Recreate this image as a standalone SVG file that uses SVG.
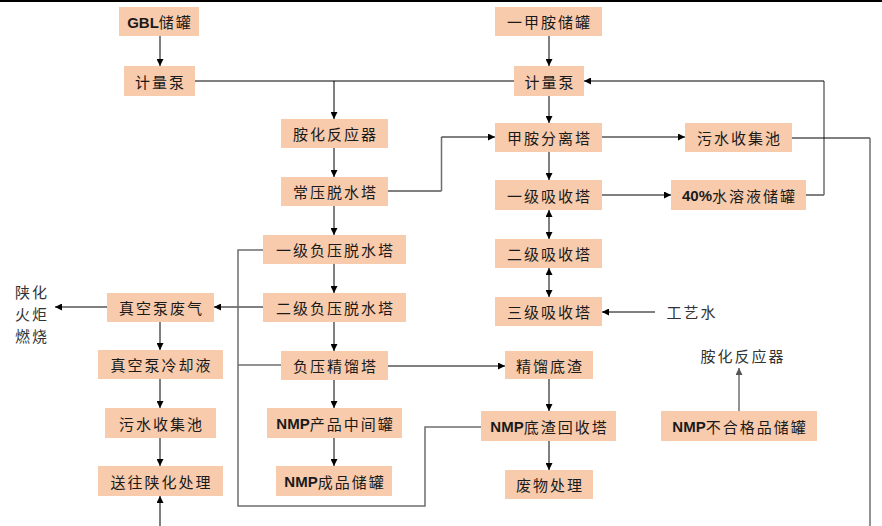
<svg xmlns="http://www.w3.org/2000/svg" width="882" height="526" viewBox="0 0 882 526">
<defs>
<marker id="ah" viewBox="0 0 10 10" refX="10" refY="5" markerWidth="7" markerHeight="7" markerUnits="userSpaceOnUse" orient="auto-start-reverse">
<path d="M0,0 L10,5 L0,10 z" fill="#000"/>
</marker>
<marker id="ahg" viewBox="0 0 10 10" refX="10" refY="5" markerWidth="7" markerHeight="7" markerUnits="userSpaceOnUse" orient="auto-start-reverse">
<path d="M0,0 L10,5 L0,10 z" fill="#555"/>
</marker>
<style>
.b{fill:#F8CBAD;}
.t{font-family:"Noto Sans CJK SC","Liberation Sans",sans-serif;font-size:15px;fill:#1a1a1a;text-anchor:middle;dominant-baseline:central;letter-spacing:2px;}
.p{font-family:"Noto Sans CJK SC","Liberation Sans",sans-serif;font-size:15px;fill:#333;text-anchor:middle;dominant-baseline:central;letter-spacing:2px;}
.l{font-family:"Liberation Sans",sans-serif;font-weight:bold;letter-spacing:0;}
.c{fill:none;stroke:#000;stroke-width:1;}
.g{fill:none;stroke:#6e6e6e;stroke-width:1.5;}
.a{marker-end:url(#ah);}
.ag{marker-end:url(#ahg);}
.d{marker-start:url(#ah);marker-end:url(#ah);}
</style>
</defs>
<rect x="0" y="0" width="882" height="526" fill="#fff"/>
<line x1="0" y1="1" x2="882" y2="1" stroke="#000" stroke-width="2"/>

<g id="connectors">
<path class="c a" d="M160,36 V66"/>
<path class="c" d="M195,81 H514"/>
<path class="c a" d="M334,81 V119"/>
<path class="c a" d="M334,148 V177"/>
<path class="c a" d="M334,206 V235"/>
<path class="c a" d="M334,264 V293"/>
<path class="c a" d="M334,322 V351"/>
<path class="c a" d="M334,380 V408"/>
<path class="c a" d="M334,438 V466"/>
<path class="c a" d="M263,307 H214"/>
<path class="c a" d="M107,307 H55"/>
<path class="c a" d="M160,322 V350"/>
<path class="c a" d="M160,379 V408"/>
<path class="c a" d="M160,438 V466"/>
<path class="c a" d="M160,526 V496"/>
<path class="c a" d="M388,366 H505"/>
<path class="c a" d="M549,379 V411"/>
<path class="c a" d="M549,441 V470"/>
<path class="g ag" d="M739,411 V368"/>
<path class="c a" d="M549,36 V66"/>
<path class="c a" d="M549,96 V123"/>
<path class="c a" d="M549,152 V180"/>
<path class="c d" d="M549,210 V239"/>
<path class="c d" d="M549,268 V297"/>
<path class="c a" d="M655,312 H602"/>
<path class="c" d="M388,191 H441.5"/>
<path class="g" d="M441.5,191 V137"/>
<path class="c a" d="M441.5,137 H495"/>
<path class="c a" d="M602,137 H685"/>
<path class="c a" d="M602,195 H671"/>
<path class="c" d="M806,195 H824"/>
<path class="g" d="M824,195 V81"/>
<path class="c a" d="M824,81 H584"/>
<path class="c" d="M792,138 H870"/>
<path class="g" d="M870,138 V526"/>
<path class="g" d="M263,250 H238 V506 H425 V427 H481"/>
<path class="g" d="M281,365 H238"/>
</g>

<g id="n_gbl"><rect class="b" x="119" y="7" width="80" height="29"/><text class="t" x="160" y="21.5"><tspan class="l">GBL</tspan>储罐</text></g>
<g id="n_pump1"><rect class="b" x="124" y="66" width="71" height="30"/><text class="t" x="160.5" y="81">计量泵</text></g>
<g id="n_amin"><rect class="b" x="281" y="119" width="107" height="29"/><text class="t" x="335.5" y="133.5">胺化反应器</text></g>
<g id="n_atm"><rect class="b" x="281" y="177" width="107" height="29"/><text class="t" x="335.5" y="191.5">常压脱水塔</text></g>
<g id="n_neg1"><rect class="b" x="263" y="235" width="143" height="29"/><text class="t" x="335.5" y="249.5">一级负压脱水塔</text></g>
<g id="n_neg2"><rect class="b" x="263" y="293" width="143" height="29"/><text class="t" x="335.5" y="307.5">二级负压脱水塔</text></g>
<g id="n_vac"><rect class="b" x="107" y="293" width="107" height="29"/><text class="t" x="161.5" y="307.5">真空泵废气</text></g>
<g id="n_rect"><rect class="b" x="281" y="351" width="107" height="29"/><text class="t" x="335.5" y="365.5">负压精馏塔</text></g>
<g id="n_vaccool"><rect class="b" x="98" y="350" width="125" height="29"/><text class="t" x="161.5" y="364.5">真空泵冷却液</text></g>
<g id="n_sewL"><rect class="b" x="105" y="408" width="111" height="30"/><text class="t" x="161.5" y="423">污水收集池</text></g>
<g id="n_send"><rect class="b" x="98" y="466" width="125" height="30"/><text class="t" x="161.5" y="481">送往陕化处理</text></g>
<g id="n_nmpmid"><rect class="b" x="267" y="408" width="135" height="30"/><text class="t" x="335.5" y="423"><tspan class="l">NMP</tspan>产品中间罐</text></g>
<g id="n_nmpfin"><rect class="b" x="276" y="466" width="116" height="30"/><text class="t" x="335" y="481"><tspan class="l">NMP</tspan>成品储罐</text></g>
<g id="n_mma"><rect class="b" x="495" y="7" width="107" height="29"/><text class="t" x="549.5" y="21.5">一甲胺储罐</text></g>
<g id="n_pump2"><rect class="b" x="514" y="66" width="70" height="30"/><text class="t" x="550" y="81">计量泵</text></g>
<g id="n_sep"><rect class="b" x="495" y="123" width="107" height="29"/><text class="t" x="549.5" y="137.5">甲胺分离塔</text></g>
<g id="n_sewR"><rect class="b" x="685" y="123" width="107" height="29"/><text class="t" x="739.5" y="137.5">污水收集池</text></g>
<g id="n_abs1"><rect class="b" x="495" y="180" width="107" height="30"/><text class="t" x="549.5" y="195">一级吸收塔</text></g>
<g id="n_sol40"><rect class="b" x="671" y="180" width="135" height="30"/><text class="t" x="739.5" y="195"><tspan class="l">40%</tspan>水溶液储罐</text></g>
<g id="n_abs2"><rect class="b" x="495" y="239" width="107" height="29"/><text class="t" x="549.5" y="253.5">二级吸收塔</text></g>
<g id="n_abs3"><rect class="b" x="495" y="297" width="107" height="29"/><text class="t" x="549.5" y="311.5">三级吸收塔</text></g>
<g id="n_bottoms"><rect class="b" x="505" y="351" width="88" height="28"/><text class="t" x="550" y="365">精馏底渣</text></g>
<g id="n_recov"><rect class="b" x="481" y="411" width="135" height="30"/><text class="t" x="549.5" y="426"><tspan class="l">NMP</tspan>底渣回收塔</text></g>
<g id="n_waste"><rect class="b" x="505" y="470" width="88" height="29"/><text class="t" x="550" y="484.5">废物处理</text></g>
<g id="n_reject"><rect class="b" x="661" y="411" width="156" height="30"/><text class="t" x="740" y="426"><tspan class="l">NMP</tspan>不合格品储罐</text></g>

<g id="n_flare"><text class="p" x="32" y="291">陕化</text><text class="p" x="32" y="313.5">火炬</text><text class="p" x="32" y="335">燃烧</text></g>
<g id="n_water"><text class="p" x="692" y="311">工艺水</text></g>
<g id="n_aminlabel"><text class="p" x="743" y="355">胺化反应器</text></g>
</svg>
